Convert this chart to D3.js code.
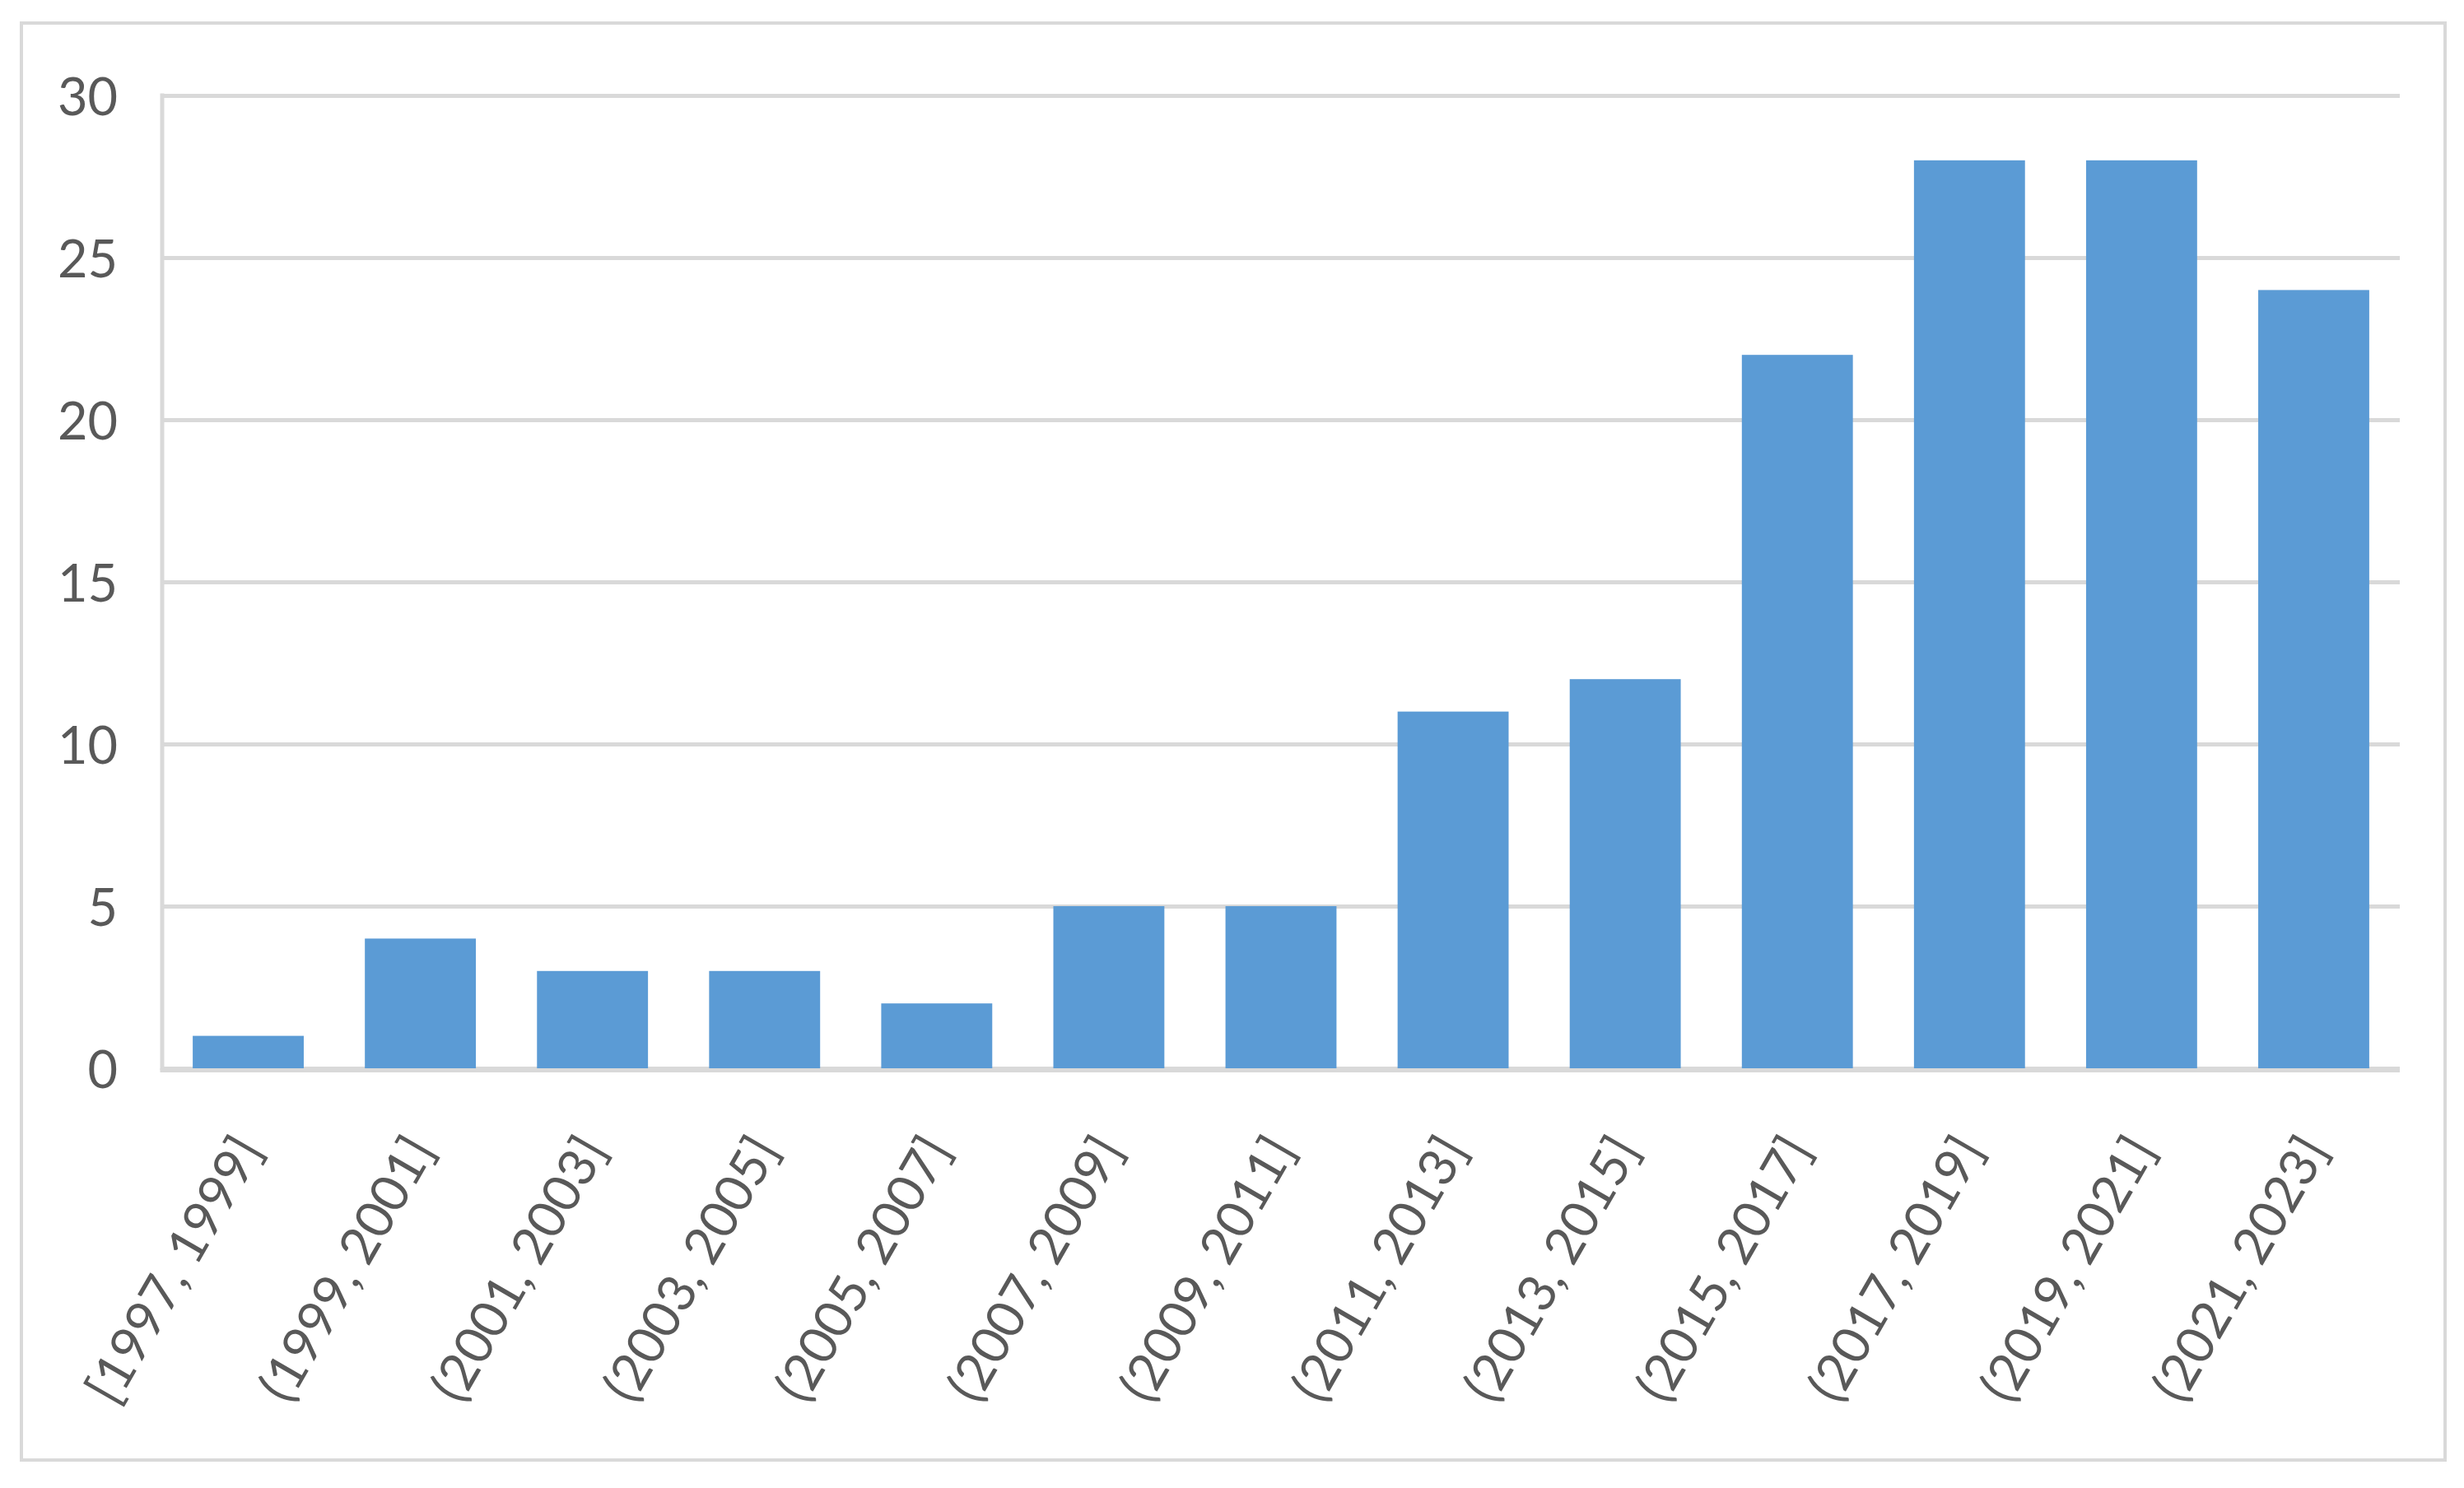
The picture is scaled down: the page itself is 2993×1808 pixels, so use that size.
<!DOCTYPE html>
<html>
<head>
<meta charset="utf-8">
<script src="https://cdn.jsdelivr.net/npm/d3@7"></script>
<style>
  html, body { margin: 0; padding: 0; background: #ffffff; }
  svg { display: block; }
</style>
</head>
<body>
<svg id="chart" width="2993" height="1808"></svg>
<script>
// ---- data ----
const categories = ["[1997, 1999]", "(1999, 2001]", "(2001, 2003]", "(2003, 2005]", "(2005, 2007]",
  "(2007, 2009]", "(2009, 2011]", "(2011, 2013]", "(2013, 2015]", "(2015, 2017]",
  "(2017, 2019]", "(2019, 2021]", "(2021, 2023]"];
const values = [1, 4, 3, 3, 2, 5, 5, 11, 12, 22, 28, 28, 24];
const yTicks = [0, 5, 10, 15, 20, 25, 30];

// ---- layout ----
const W = 2993, H = 1808;
const plot = { left: 197, right: 2915, top: 116, bottom: 1298 };
const fontFamily = "Lato, 'Open Sans', sans-serif";
const textColor = "#595959";
const gridColor = "#D9D9D9";
const barColor = "#5B9BD5";

const svg = d3.select("#chart");

// outer chart border
svg.append("rect")
  .attr("x", 26).attr("y", 28)
  .attr("width", 2970 - 26).attr("height", 1774 - 28)
  .attr("fill", "#ffffff")
  .attr("stroke", gridColor).attr("stroke-width", 4);

const x = d3.scaleBand()
  .domain(categories)
  .range([plot.left, plot.right])
  .paddingInner(0.355)
  .paddingOuter(0.355 / 2);

const y = d3.scaleLinear()
  .domain([0, 30])
  .range([plot.bottom, plot.top]);

// gridlines + y labels via axis
const yAxis = d3.axisLeft(y)
  .tickValues(yTicks)
  .tickSize(-(plot.right - plot.left))
  .tickPadding(54)
  .tickFormat(d3.format("d"));

const gy = svg.append("g")
  .attr("transform", `translate(${plot.left},0)`)
  .call(yAxis);
gy.select(".domain").remove();
gy.selectAll(".tick line")
  .attr("stroke", gridColor)
  .attr("stroke-width", 5);
gy.selectAll(".tick text")
  .attr("fill", textColor)
  .attr("font-family", fontFamily)
  .attr("font-size", 63)
  .attr("dy", "0.38em");

// left vertical axis line
svg.append("line")
  .attr("x1", plot.left).attr("x2", plot.left)
  .attr("y1", plot.top - 2.5).attr("y2", plot.bottom + 2.5)
  .attr("stroke", gridColor).attr("stroke-width", 5);

// bars
svg.append("g").selectAll("rect")
  .data(values)
  .join("rect")
  .attr("x", (d, i) => x(categories[i]))
  .attr("y", d => y(d))
  .attr("width", x.bandwidth())
  .attr("height", d => y(0) - y(d))
  .attr("fill", barColor);

// baseline axis on top of bars
svg.append("line")
  .attr("x1", plot.left - 2.5).attr("x2", plot.right)
  .attr("y1", plot.bottom + 2.5).attr("y2", plot.bottom + 2.5)
  .attr("stroke", gridColor).attr("stroke-width", 5);

// x labels (rotated)
const xAxis = d3.axisBottom(x).tickSize(0).tickPadding(0);
const gx = svg.append("g")
  .attr("transform", `translate(0,${plot.bottom})`)
  .call(xAxis);
gx.select(".domain").remove();
gx.selectAll(".tick text")
  .attr("fill", textColor)
  .attr("font-family", fontFamily)
  .attr("font-size", 63)
  .attr("text-anchor", "end")
  .attr("x", 0)
  .attr("y", 0)
  .attr("dy", "0.35em")
  .attr("transform", "translate(0,88) rotate(-60)");
</script>
</body>
</html>
